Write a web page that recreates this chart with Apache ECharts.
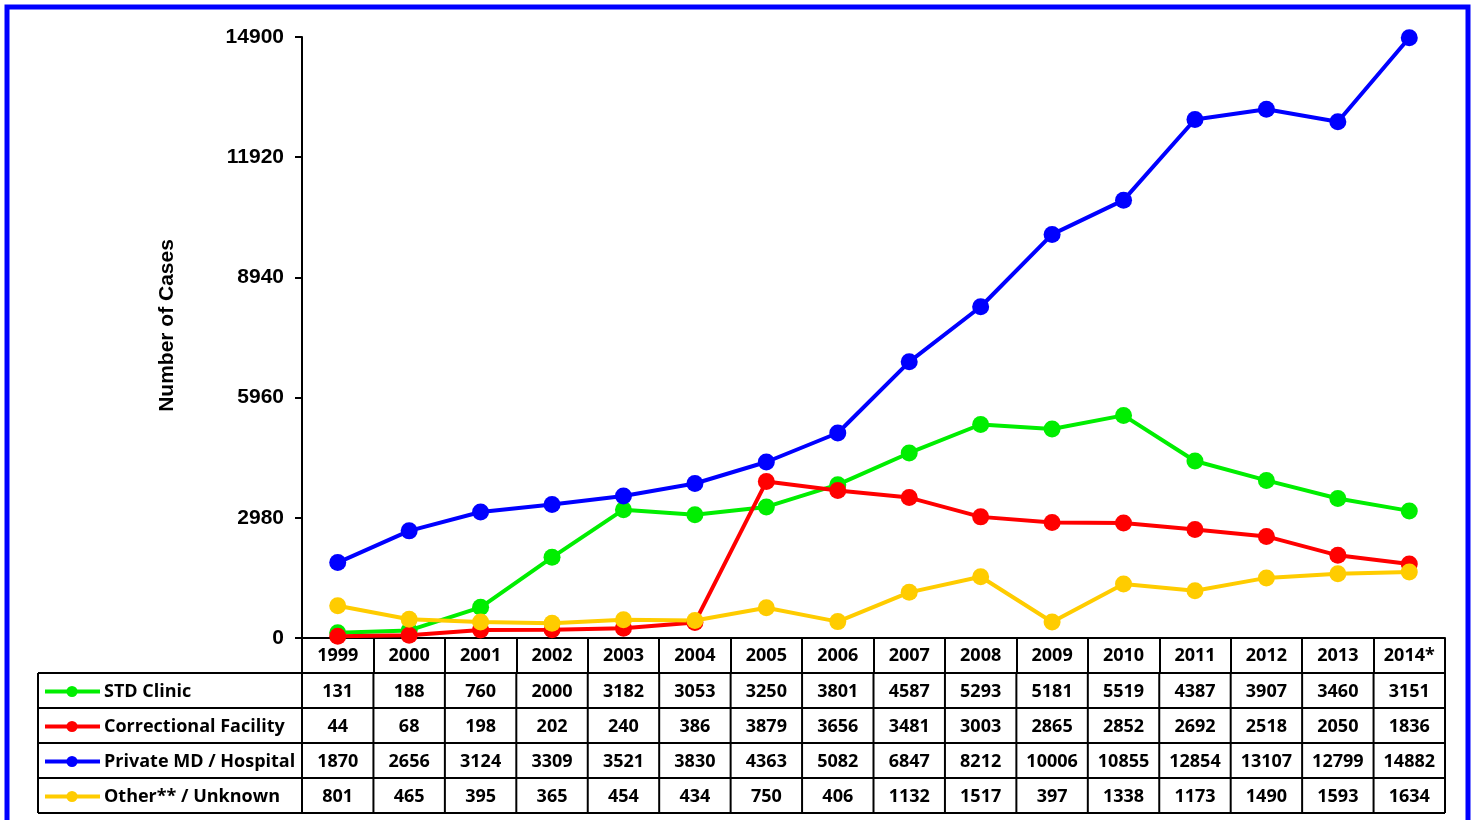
<!DOCTYPE html>
<html><head><meta charset="utf-8">
<script src="https://cdn.jsdelivr.net/npm/echarts@6/dist/echarts.min.js"></script>
<style>html,body{margin:0;padding:0;background:#fff}#c{width:1476px;height:820px}</style>
</head><body><div id="c"></div>
<script>
const years = ['1999','2000','2001','2002','2003','2004','2005','2006','2007','2008','2009','2010','2011','2012','2013','2014*'];
const stdClinic = [131,188,760,2000,3182,3053,3250,3801,4587,5293,5181,5519,4387,3907,3460,3151];
const correctional = [44,68,198,202,240,386,3879,3656,3481,3003,2865,2852,2692,2518,2050,1836];
const privateMD = [1870,2656,3124,3309,3521,3830,4363,5082,6847,8212,10006,10855,12854,13107,12799,14882];
const other = [801,465,395,365,454,434,750,406,1132,1517,397,1338,1173,1490,1593,1634];
const seriesNames = ['STD Clinic','Correctional Facility','Private MD / Hospital','Other** / Unknown'];
const seriesColors = ['#00ee00','#ff0000','#0000ff','#ffcc00'];
const seriesData = [stdClinic, correctional, privateMD, other];
const yMax = 14900, yStep = 2980;

const GL = 302, GT = 37, GW = 1143, GH = 601;
const TL = 38, ROW = 35;
const cw = GW / years.length;
const tableTop = GT + GH + ROW; // first data row top
const tableBottom = tableTop + ROW * seriesData.length;
const TFONT = 'bold 18px "Open Sans"';

const chart = echarts.init(document.getElementById('c'));
const g = [];
g.push({type:'rect', shape:{x:7,y:7,width:1461,height:900}, style:{fill:null, stroke:'#0000ff', lineWidth:5}, z:100});
const ls = {stroke:'#000', lineWidth:2};
for (let r = 0; r <= seriesData.length; r++) {
  const y = tableTop + r*ROW;
  g.push({type:'line', shape:{x1:TL, y1:y, x2:GL+GW, y2:y}, style:ls});
}
g.push({type:'line', shape:{x1:TL, y1:tableTop, x2:TL, y2:tableBottom}, style:ls});
for (let i = 0; i <= years.length; i++) {
  const x = GL + i*cw;
  g.push({type:'line', shape:{x1:x, y1:tableTop, x2:x, y2:tableBottom}, style:ls});
}
seriesData.forEach((arr, r) => {
  const cy = tableTop + r*ROW + ROW/2 + 1;
  g.push({type:'line', shape:{x1:45, y1:cy, x2:100, y2:cy}, style:{stroke:seriesColors[r], lineWidth:4}});
  g.push({type:'circle', shape:{cx:72, cy:cy, r:5.5}, style:{fill:seriesColors[r]}});
  g.push({type:'text', x:104, y:cy, style:{text:seriesNames[r], fill:'#000', font:TFONT, verticalAlign:'middle', align:'left'}});
  arr.forEach((v, i) => {
    g.push({type:'text', x:GL + i*cw + cw/2, y:cy, style:{text:String(v), fill:'#000', font:TFONT, verticalAlign:'middle', align:'center'}});
  });
});

chart.setOption({
  animation:false,
  backgroundColor:'#fff',
  grid:{left:GL, top:GT, width:GW, height:GH, containLabel:false},
  xAxis:{type:'category', data:years, boundaryGap:true,
    axisLine:{show:true, lineStyle:{color:'#000', width:2}},
    axisTick:{show:true, length:ROW, lineStyle:{color:'#000', width:2}},
    axisLabel:{margin:9, color:'#000', fontFamily:'Open Sans', fontWeight:'bold', fontSize:18, interval:0},
    splitLine:{show:false}},
  yAxis:{type:'value', min:0, max:yMax, interval:yStep,
    name:'Number of Cases', nameLocation:'middle', nameGap:124, nameRotate:90,
    nameTextStyle:{color:'#000', fontFamily:'Liberation Sans', fontWeight:'bold', fontSize:21, padding:[0,0,0,24]},
    axisLine:{show:true, lineStyle:{color:'#000', width:2}},
    axisTick:{show:true, length:7, lineStyle:{color:'#000', width:2}},
    axisLabel:{margin:18, color:'#000', fontFamily:'Liberation Sans', fontWeight:'bold', fontSize:21, formatter:v => String(v)},
    splitLine:{show:false}},
  series: seriesData.map((arr, r) => ({
    name:seriesNames[r], type:'line', data:arr, symbol:'circle', symbolSize:17, showSymbol:true,
    lineStyle:{color:seriesColors[r], width:4}, itemStyle:{color:seriesColors[r]},
    emphasis:{disabled:true}, clip:false
  })),
  graphic:g
});
</script></body></html>
